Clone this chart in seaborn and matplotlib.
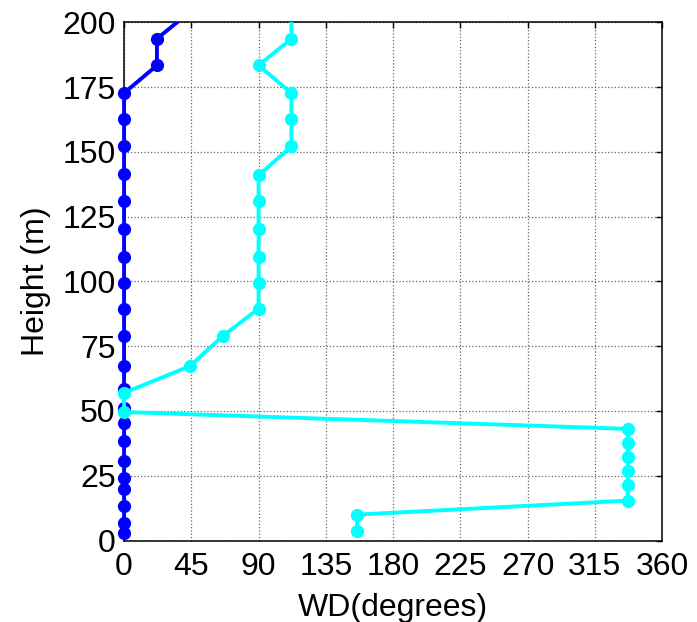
import numpy as np
import pandas as pd
import matplotlib
matplotlib.use("Agg")
import matplotlib.pyplot as plt
from matplotlib.patches import Rectangle
import seaborn as sns

# Wind direction profiles: height (m) and direction (degrees)
height_blue = [2.8, 6.7, 13.5, 20.0, 24.2, 30.6, 38.3, 45.3, 51.2, 58.6, 67.3, 78.9,
               89.5, 99.5, 109.4, 120.3, 131.2, 141.6, 152.1, 162.8, 172.7, 183.4, 193.7, 204.5]
wd_blue = [0, 0, 0, 0, 0, 0, 0, 0, 0, 0, 0, 0,
           0, 0, 0, 0, 0, 0, 0, 0, 0, 22, 22, 45]

height_cyan = [3.6, 10.0, 15.4, 21.5, 27.0, 32.2, 37.6, 43.1, 49.6, 57.0, 67.3, 78.9,
               89.5, 99.5, 109.4, 120.3, 131.2, 141.0, 152.1, 162.8, 172.7, 183.4, 193.7, 204.5]
wd_cyan = [156, 156, 337, 337, 337, 337, 337, 337, 0, 0, 44, 66,
           90, 90, 90, 90, 90, 90, 112, 112, 112, 90, 112, 112]

x_ticks = [0, 45, 90, 135, 180, 225, 270, 315, 360]
y_ticks = [0, 25, 50, 75, 100, 125, 150, 175, 200]

sns.set_theme(style="white")
plt.rcParams["font.family"] = ["Liberation Sans", "DejaVu Sans"]

fig = plt.figure(figsize=(6.97, 6.22), dpi=100)
ax = fig.add_axes([0.178, 0.131, 0.772, 0.833])

df_blue = pd.DataFrame({"wd": wd_blue, "height": height_blue})
df_cyan = pd.DataFrame({"wd": wd_cyan, "height": height_cyan})

for df, col in [(df_blue, "#0000ff"), (df_cyan, "#00ffff")]:
    sns.lineplot(data=df, x="wd", y="height", sort=False, estimator=None,
                 color=col, linewidth=2.8, marker="o", markersize=9.5,
                 markeredgecolor=col, markeredgewidth=0, ax=ax, zorder=3)

# let markers on the left edge show fully, while clipping at the top
for line in ax.lines:
    clip = Rectangle((-0.04, 0.0), 1.08, 1.0, transform=ax.transAxes)
    line.set_clip_path(clip)

ax.set_xlim(0, 360)
ax.set_ylim(0, 200)
ax.set_xticks(x_ticks)
ax.set_yticks(y_ticks)
ax.set_xticklabels([str(t) for t in x_ticks])
ax.set_yticklabels([str(t) for t in y_ticks])

ax.grid(True, linestyle=":", color="0.4", linewidth=0.9)
ax.set_axisbelow(True)

ax.tick_params(direction="in", top=True, right=True, length=4, width=1,
               labelsize=23, colors="black")
ax.tick_params(axis="x", pad=8)
ax.tick_params(axis="y", pad=6)

for s in ax.spines.values():
    s.set_color("black")
    s.set_linewidth(1.1)
    s.set_visible(True)

ax.set_xlabel("WD(degrees)", fontsize=23, color="black", labelpad=8)
ax.set_ylabel("Height (m)", fontsize=23, color="black", labelpad=8)

fig.savefig("out.png", dpi=100)
